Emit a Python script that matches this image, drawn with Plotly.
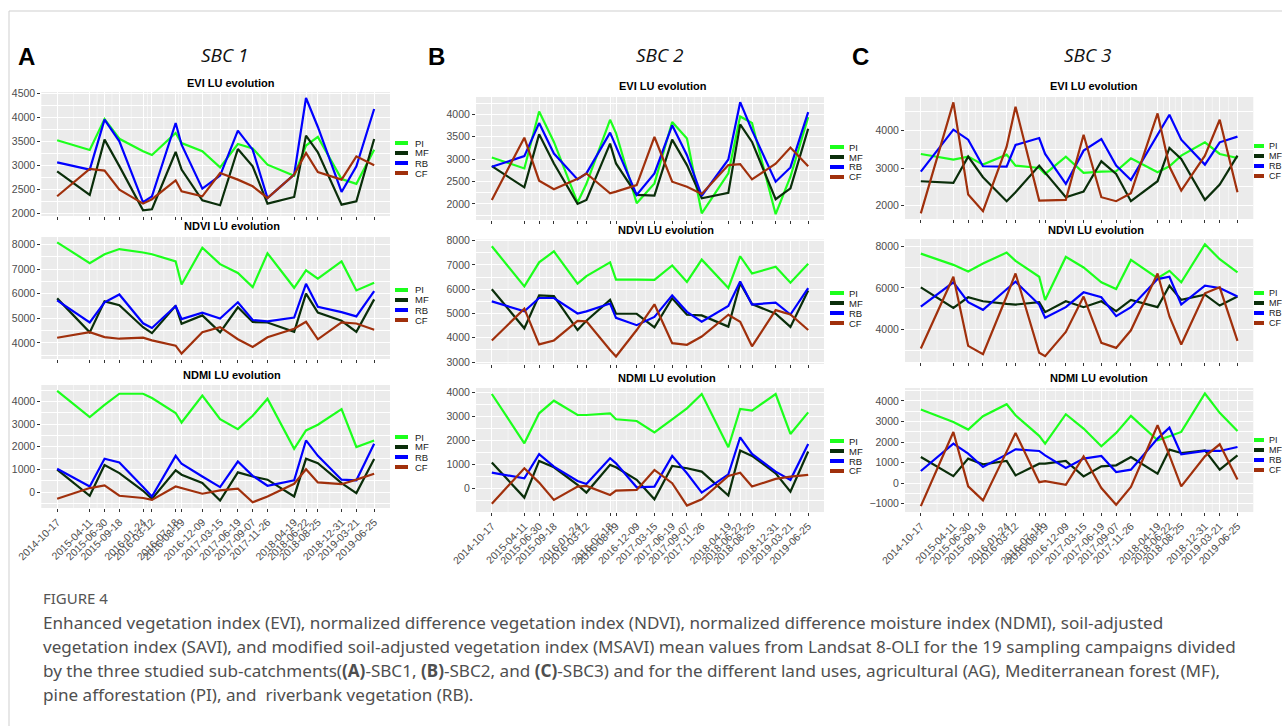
import pandas as pd
import plotly.graph_objects as go

# ---------------------------------------------------------------- data
dates = ["2014-10-17", "2015-04-11", "2015-06-30", "2015-09-18", "2016-01-24",
         "2016-03-12", "2016-07-18", "2016-08-19", "2016-12-09", "2017-03-15",
         "2017-06-19", "2017-09-07", "2017-11-26", "2018-04-19", "2018-06-22",
         "2018-08-25", "2018-12-31", "2019-03-21", "2019-06-25"]

land_uses = ["PI", "MF", "RB", "CF"]
indices = ["EVI", "NDVI", "NDMI"]
catchments = ["SBC 1", "SBC 2", "SBC 3"]
panel_letters = ["A", "B", "C"]

# SBC 1
sbc1_evi_pi = [3528, 3326, 3970, 3560, 3300, 3222, 3680, 3470, 3300, 2965, 3450, 3360, 3020, 2790, 3420, 3600, 2720, 2620, 3330]
sbc1_evi_mf = [2882, 2389, 3542, 2990, 2070, 2090, 3285, 2917, 2278, 2174, 3347, 2986, 2208, 2347, 3625, 3278, 2187, 2257, 3555]
sbc1_evi_rb = [3069, 2917, 3958, 3507, 2236, 2360, 3889, 3437, 2520, 2792, 3729, 3333, 2326, 2812, 4410, 3806, 2451, 2986, 4180]
sbc1_evi_cf = [2361, 2930, 2896, 2500, 2208, 2300, 2694, 2465, 2360, 2847, 2708, 2569, 2326, 2812, 3264, 2868, 2708, 3194, 3007]

sbc1_ndvi_pi = [8080, 7240, 7600, 7810, 7670, 7600, 7307, 6370, 7867, 7200, 6840, 6267, 7640, 6240, 6947, 6613, 7307, 6133, 6440]
sbc1_ndvi_mf = [5810, 4430, 5690, 5530, 4640, 4400, 5507, 4780, 5120, 4430, 5450, 4850, 4830, 4450, 6000, 5230, 4900, 4450, 5770]
sbc1_ndvi_rb = [5730, 4830, 5650, 5970, 4800, 4610, 5500, 4970, 5230, 4990, 5650, 4930, 4880, 5030, 6400, 5470, 5250, 5080, 6100]
sbc1_ndvi_cf = [4213, 4440, 4240, 4173, 4213, 4107, 3890, 3570, 4440, 4640, 4150, 3840, 4230, 4580, 4860, 4150, 4840, 4790, 4540]

sbc1_ndmi_pi = [4470, 3310, 3850, 4340, 4340, 4150, 3490, 3070, 4260, 3220, 2780, 3370, 4120, 1910, 2720, 2970, 3660, 1990, 2280]
sbc1_ndmi_mf = [990, -160, 1200, 840, 60, -300, 960, 770, 400, -370, 870, 690, 550, -190, 1470, 1280, 400, -40, 1460]
sbc1_ndmi_rb = [1030, 250, 1470, 1310, 230, -190, 1600, 1250, 690, 220, 1350, 720, 280, 520, 2280, 1600, 550, 520, 2130]
sbc1_ndmi_cf = [-290, 180, 300, -160, -260, -340, 250, 180, -70, 80, 150, -450, -190, 370, 1010, 430, 350, 550, 810]

# SBC 2
sbc2_evi_pi = [3037, 2793, 4067, 3385, 2030, 2450, 3880, 3585, 2015, 2459, 3830, 3460, 1790, 2682, 3955, 3807, 1770, 2607, 3940]
sbc2_evi_mf = [2844, 2370, 3555, 2904, 2000, 2089, 3348, 2904, 2200, 2185, 3437, 2867, 2126, 2250, 3778, 3385, 2104, 2348, 3681]
sbc2_evi_rb = [2830, 3067, 3807, 3126, 2548, 2682, 3593, 3289, 2200, 2682, 3756, 3089, 2178, 2993, 4274, 3644, 2496, 2815, 4052]
sbc2_evi_cf = [2089, 3481, 2519, 2326, 2560, 2680, 2237, 2274, 2422, 3496, 2496, 2385, 2222, 2867, 2889, 2548, 2900, 3259, 2844]

sbc2_ndvi_pi = [7770, 6120, 7110, 7560, 6230, 6540, 7110, 6400, 6400, 6390, 6980, 6300, 7220, 6050, 7360, 6650, 6930, 6270, 7050]
sbc2_ndvi_mf = [6000, 4390, 5750, 5720, 4320, 4700, 5560, 4990, 4990, 4430, 5630, 4950, 4920, 4460, 6250, 5390, 4990, 4450, 5950]
sbc2_ndvi_rb = [5500, 5090, 5640, 5640, 5000, 5090, 5410, 4820, 4520, 4860, 5750, 5070, 4660, 5310, 6320, 5370, 5450, 4960, 6050]
sbc2_ndvi_cf = [3890, 5200, 3730, 3890, 4700, 4680, 3500, 3230, 4320, 5380, 3780, 3710, 4050, 4950, 4660, 3650, 5140, 4960, 4320]

sbc2_ndmi_pi = [3930, 1875, 3125, 3650, 3055, 3055, 3125, 2875, 2805, 2330, 2875, 3330, 3930, 1710, 3305, 3235, 3930, 2265, 3165]
sbc2_ndmi_mf = [1070, -390, 1140, 875, 140, -180, 975, 875, 350, -460, 930, 835, 695, -305, 1570, 1350, 625, -140, 1530]
sbc2_ndmi_rb = [650, 415, 1420, 900, 305, 180, 1250, 1040, 40, 70, 1350, 625, -180, 580, 2125, 1430, 695, 350, 1845]
sbc2_ndmi_cf = [-650, 835, 235, -485, 70, 95, -280, -100, -70, 765, 210, -720, -460, 510, 650, 70, 390, 485, 555]

# SBC 3
sbc3_evi_pi = [3378, 3227, 3307, 3093, 3360, 3067, 3004, 2844, 3307, 2871, 2907, 2916, 3262, 2889, 3049, 3333, 3689, 3378, 3271]
sbc3_evi_mf = [2649, 2604, 3307, 2756, 2116, 2356, 3067, 2880, 2222, 2373, 3182, 2844, 2116, 2649, 3538, 3244, 2151, 2560, 3333]
sbc3_evi_rb = [2907, 4027, 3760, 3049, 3040, 3618, 3804, 3378, 2578, 3467, 3778, 3067, 2684, 3880, 4427, 3760, 3093, 3689, 3840]
sbc3_evi_cf = [1790, 4756, 2293, 1850, 3573, 4640, 2133, 2133, 2150, 3893, 2222, 2116, 2329, 4462, 3040, 2400, 3333, 4293, 2356]

sbc3_ndvi_pi = [7664, 7120, 6800, 7184, 7712, 7312, 6544, 5424, 7504, 6992, 6272, 5952, 7360, 6480, 6832, 6272, 8112, 7392, 6752]
sbc3_ndvi_mf = [6032, 5040, 5552, 5360, 5232, 5200, 5312, 4832, 5360, 5072, 5360, 4880, 5424, 5072, 6112, 5424, 5680, 5152, 5584]
sbc3_ndvi_rb = [5104, 6272, 5312, 4944, 5940, 6304, 5200, 4560, 5072, 5792, 5552, 4640, 5072, 6432, 6544, 5200, 6112, 6000, 5584]
sbc3_ndvi_cf = [3072, 6544, 3200, 2800, 5600, 6704, 2864, 2704, 3872, 5584, 3344, 3104, 3952, 6704, 4624, 3264, 5744, 6032, 3440]

sbc3_ndmi_pi = [3578, 2977, 2604, 3253, 3838, 3300, 2300, 1922, 3350, 2653, 1793, 2442, 3270, 2085, 2280, 2490, 4357, 3416, 2540]
sbc3_ndmi_mf = [1273, 340, 1192, 916, 1078, 380, 949, 949, 1078, 332, 819, 868, 1273, 462, 1630, 1468, 1598, 657, 1354]
sbc3_ndmi_rb = [592, 1922, 1435, 787, 1400, 1647, 1566, 1354, 738, 1192, 1322, 543, 657, 2166, 2702, 1403, 1566, 1566, 1760]
sbc3_ndmi_cf = [-1113, 2490, -155, -837, 1533, 2442, 49, 97, -81, 1306, -236, -1048, -187, 2815, 1354, -155, 1306, 1890, 179]

series = {
    (0, "EVI"): [sbc1_evi_pi, sbc1_evi_mf, sbc1_evi_rb, sbc1_evi_cf],
    (0, "NDVI"): [sbc1_ndvi_pi, sbc1_ndvi_mf, sbc1_ndvi_rb, sbc1_ndvi_cf],
    (0, "NDMI"): [sbc1_ndmi_pi, sbc1_ndmi_mf, sbc1_ndmi_rb, sbc1_ndmi_cf],
    (1, "EVI"): [sbc2_evi_pi, sbc2_evi_mf, sbc2_evi_rb, sbc2_evi_cf],
    (1, "NDVI"): [sbc2_ndvi_pi, sbc2_ndvi_mf, sbc2_ndvi_rb, sbc2_ndvi_cf],
    (1, "NDMI"): [sbc2_ndmi_pi, sbc2_ndmi_mf, sbc2_ndmi_rb, sbc2_ndmi_cf],
    (2, "EVI"): [sbc3_evi_pi, sbc3_evi_mf, sbc3_evi_rb, sbc3_evi_cf],
    (2, "NDVI"): [sbc3_ndvi_pi, sbc3_ndvi_mf, sbc3_ndvi_rb, sbc3_ndvi_cf],
    (2, "NDMI"): [sbc3_ndmi_pi, sbc3_ndmi_mf, sbc3_ndmi_rb, sbc3_ndmi_cf],
}

caption_title = "FIGURE 4"
caption_lines = [
    "Enhanced vegetation index (EVI), normalized difference vegetation index (NDVI), normalized difference moisture index (NDMI), soil-adjusted",
    "vegetation index (SAVI), and modified soil-adjusted vegetation index (MSAVI) mean values from Landsat 8-OLI for the 19 sampling campaigns divided",
    "by the three studied sub-catchments(<b>(A)</b>-SBC1, <b>(B)</b>-SBC2, and <b>(C)</b>-SBC3) and for the different land uses, agricultural (AG), Mediterranean forest (MF),",
    "pine afforestation (PI), and  riverbank vegetation (RB).",
]

# ---------------------------------------------------------------- styling / layout
W, H = 1282, 726
colors = {"PI": "#1cff1c", "MF": "#0a2e0a", "RB": "#0000ff", "CF": "#a0300c"}
panel_bg = "#ebebeb"
tick_grey = "#4d4d4d"
ggfont = "Liberation Sans, Arial, sans-serif"


def px(x):
    return x / W


def py(y):
    return 1 - y / H


# plot-area pixel boxes
col_x = [(41.3, 390.0), (476.0, 824.0), (905.0, 1253.3)]
row_y = [
    [(92, 216), (237, 359), (385, 508)],
    [(97, 220), (239.5, 364), (388, 512)],
    [(97, 219), (239, 362), (388, 512)],
]
y_ranges = [
    [(1950, 4535), (3350, 8300), (-700, 4725)],
    [(1640, 4390), (2920, 8050), (-990, 4180)],
    [(1640, 4900), (2420, 8370), (-1400, 4625)],
]
y_dticks = [[500, 1000, 1000], [500, 1000, 1000], [1000, 2000, 1000]]
title_y = [[83, 226, 375], [86, 230, 378], [86, 230, 378]]
title_x = [[231, 232, 232], [663, 666, 667], [1094, 1096, 1099]]
legend_y0 = [[143, 290, 437], [147, 293, 441], [146, 293, 440]]
legend_key_x = [(395, 408), (830, 844), (1254, 1264)]
legend_text_x = [413, 847, 1267]
legend_size = [9.5, 9.5, 9]
legend_step = 10
letter_xy = [(26.5, 57), (436.5, 57), (860.5, 57)]
sbc_xy = [(225, 55), (660, 55), (1088, 55)]

dt_index = pd.to_datetime(dates)
pad = pd.Timedelta(days=(dt_index[-1] - dt_index[0]).days * 0.05)
x_range = [(dt_index[0] - pad).strftime("%Y-%m-%d %H:%M"), (dt_index[-1] + pad).strftime("%Y-%m-%d %H:%M")]
x_minor = [dt_index[i] + (dt_index[i + 1] - dt_index[i]) / 2 for i in range(len(dt_index) - 1)]

fig = go.Figure()
shapes = []
annotations = []
layout_axes = {}

for c in range(3):
    for r, idx in enumerate(indices):
        k = c * 3 + r + 1
        xs = "" if k == 1 else str(k)
        # one line per land use
        for lu, vals in zip(land_uses, series[(c, idx)]):
            fig.add_trace(go.Scatter(
                x=dates, y=vals, mode="lines", name=lu, showlegend=False,
                line=dict(color=colors[lu], width=2.2),
                xaxis="x" + xs, yaxis="y" + xs,
            ))
        x0, x1 = col_x[c]
        yt, yb = row_y[c][r]
        dt = y_dticks[c][r]
        layout_axes["xaxis" + xs] = dict(
            domain=[px(x0), px(x1)], anchor="y" + xs, type="date", range=x_range,
            tickmode="array", tickvals=dates, ticktext=dates,
            showticklabels=(r == 2), tickangle=-45,
            tickfont=dict(family=ggfont, size=10.5, color=tick_grey),
            ticks="outside", ticklen=3, tickwidth=1, tickcolor="#333333",
            showgrid=True, gridcolor="white", gridwidth=1.1,
            zeroline=False, showline=False, fixedrange=True, automargin=False,
        )
        layout_axes["yaxis" + xs] = dict(
            domain=[py(yb), py(yt)], anchor="x" + xs, range=list(y_ranges[c][r]),
            tick0=0, dtick=dt, tickformat="d",
            tickfont=dict(family=ggfont, size=10.5, color=tick_grey),
            ticks="outside", ticklen=3, tickwidth=1, tickcolor="#333333",
            showgrid=True, gridcolor="white", gridwidth=1.1,
            minor=dict(dtick=dt / 2, tick0=0, showgrid=True, gridcolor="white", gridwidth=0.5, ticks=""),
            zeroline=False, showline=False, fixedrange=True, automargin=False,
        )
        # panel background
        shapes.append(dict(type="rect", xref="x" + xs + " domain", yref="y" + xs + " domain",
                           x0=0, x1=1, y0=0, y1=1, fillcolor=panel_bg, line=dict(width=0), layer="below"))
        # vertical minor grid between sampling dates
        for m in x_minor:
            shapes.append(dict(type="line", xref="x" + xs, yref="y" + xs + " domain",
                               x0=m, x1=m, y0=0, y1=1, layer="below",
                               line=dict(color="white", width=0.5)))
        # panel title
        annotations.append(dict(text="<b>%s LU evolution</b>" % idx, xref="paper", yref="paper",
                                x=px(title_x[c][r]), y=py(title_y[c][r]), xanchor="center", yanchor="middle",
                                showarrow=False, font=dict(family=ggfont, size=11, color="#000000")))
        # legend keys and labels
        kx0, kx1 = legend_key_x[c]
        for i, lu in enumerate(land_uses):
            ly = legend_y0[c][r] + i * legend_step
            shapes.append(dict(type="line", xref="paper", yref="paper",
                               x0=px(kx0), x1=px(kx1), y0=py(ly), y1=py(ly),
                               line=dict(color=colors[lu], width=4)))
            annotations.append(dict(text=lu, xref="paper", yref="paper",
                                    x=px(legend_text_x[c]), y=py(ly), xanchor="left", yanchor="middle",
                                    showarrow=False,
                                    font=dict(family=ggfont, size=legend_size[c], color="#1a1a1a")))

# column headings
for c in range(3):
    lx, ly = letter_xy[c]
    annotations.append(dict(text="<b>%s</b>" % panel_letters[c], xref="paper", yref="paper",
                            x=px(lx), y=py(ly), xanchor="center", yanchor="middle", showarrow=False,
                            font=dict(family=ggfont, size=24, color="#000000")))
    sx, sy = sbc_xy[c]
    annotations.append(dict(text="<i>%s</i>" % catchments[c], xref="paper", yref="paper",
                            x=px(sx), y=py(sy), xanchor="center", yanchor="middle", showarrow=False,
                            font=dict(family="Open Sans, sans-serif", size=19, color="#111111")))

# caption
annotations.append(dict(text=caption_title, xref="paper", yref="paper", x=px(41), y=py(598),
                        xanchor="left", yanchor="middle", showarrow=False,
                        font=dict(family="Noto Sans, sans-serif", size=15, color="#555555")))
for i, line in enumerate(caption_lines):
    annotations.append(dict(text=line, xref="paper", yref="paper", x=px(41), y=py(622 + 24 * i),
                            xanchor="left", yanchor="middle", showarrow=False,
                            font=dict(family="Noto Sans, sans-serif", size=17.1, color="#4f4f4f")))

# card frame
shapes.append(dict(type="line", xref="paper", yref="paper", x0=px(9), x1=1, y0=py(11), y1=py(11),
                   line=dict(color="#cfcfcf", width=1)))
shapes.append(dict(type="line", xref="paper", yref="paper", x0=px(9), x1=px(9), y0=py(11), y1=0,
                   line=dict(color="#cfcfcf", width=1)))

fig.update_layout(
    width=W, height=H, margin=dict(l=0, r=0, t=0, b=0, pad=0, autoexpand=False),
    paper_bgcolor="white", plot_bgcolor="rgba(0,0,0,0)",
    showlegend=False, shapes=shapes, annotations=annotations,
    **layout_axes,
)

# page without body margin or scrollbars so the figure sits at the window origin
page_js = ("document.documentElement.style.margin='0';document.documentElement.style.padding='0';"
           "document.body.style.margin='0';document.body.style.padding='0';"
           "document.documentElement.style.overflow='hidden';document.body.style.overflow='hidden';")

fig.write_html("out.html", config={"displayModeBar": False}, post_script=page_js)
